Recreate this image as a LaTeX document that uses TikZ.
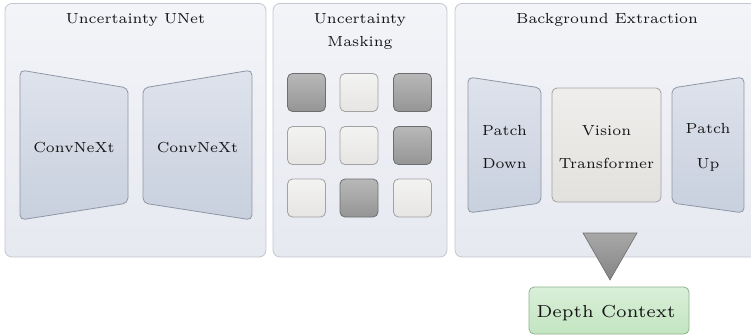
\documentclass[tikz,border=0pt]{standalone}
\definecolor{panelTop}{HTML}{F3F4F8}
\definecolor{panelBot}{HTML}{E7E9F1}
\definecolor{panelLine}{HTML}{C2C6CE}
\definecolor{trapTop}{HTML}{DEE3EC}
\definecolor{trapBot}{HTML}{C8D0DE}
\definecolor{trapLine}{HTML}{8E97A6}
\definecolor{darkTop}{HTML}{B8B8B8}
\definecolor{darkBot}{HTML}{959595}
\definecolor{darkLine}{HTML}{6E6E6E}
\definecolor{liteTop}{HTML}{F3F3F2}
\definecolor{liteBot}{HTML}{E6E5E3}
\definecolor{liteLine}{HTML}{A2A2A2}
\definecolor{vitTop}{HTML}{EFEEEC}
\definecolor{vitBot}{HTML}{E2E1DE}
\definecolor{triTop}{HTML}{A8A8A8}
\definecolor{triBot}{HTML}{848484}
\definecolor{greenTop}{HTML}{DAEFD9}
\definecolor{greenBot}{HTML}{C2E5C0}
\definecolor{greenLine}{HTML}{8FB18D}
\definecolor{ink}{HTML}{161616}
\begin{document}
\begin{tikzpicture}[x=1pt,y=1pt,
  textbase/.style={font=\fontsize{6}{7.2}\selectfont, text=ink,
    transform shape, inner sep=0pt, anchor=base},
  lbl/.style={textbase, scale=2.43},
  biglbl/.style={textbase, scale=2.9},
  panel/.style={draw=panelLine, line width=0.8pt, rounded corners=7pt,
    top color=panelTop, bottom color=panelBot, inner sep=0pt},
  trap/.style={draw=trapLine, line width=0.8pt, rounded corners=5pt,
    top color=trapTop, bottom color=trapBot},
  cell/.style={rounded corners=5pt, line width=0.8pt, minimum size=38pt, inner sep=0pt},
  darkcell/.style={cell, draw=darkLine, top color=darkTop, bottom color=darkBot},
  litecell/.style={cell, draw=liteLine, top color=liteTop, bottom color=liteBot},
  vit/.style={draw=liteLine, line width=0.8pt, rounded corners=5pt,
    top color=vitTop, bottom color=vitBot, inner sep=0pt},
  depthbox/.style={draw=greenLine, line width=0.8pt, rounded corners=5pt,
    top color=greenTop, bottom color=greenBot, inner sep=0pt},
  funnel/.style={draw=darkLine, line width=0.6pt, top color=triTop, bottom color=triBot}]
\useasboundingbox (0,0) rectangle (751,-335);
\clip (0,0) rectangle (751,-335);

% panels
\node[panel, minimum width=261pt, minimum height=253.5pt] (unet) at (135.5,-130.25) {};
\node[panel, minimum width=174pt, minimum height=253.5pt] (mask) at (360,-130.25) {};
\node[panel, minimum width=310pt, minimum height=253.5pt] (bgx) at (610,-130.25) {};

\node[lbl] (unetT) at (135.5,-23) {Uncertainty UNet};
\node[lbl] (maskT1) at (360,-23) {Uncertainty};
\node[lbl] (maskT2) at (360,-46) {Masking};
\node[lbl] (bgxT) at (607,-23) {Background Extraction};

% UNet encoder / decoder
\draw[trap] (20,-70) -- (128,-88) -- (128,-203) -- (20,-220) -- cycle;
\draw[trap] (143,-88) -- (252,-70) -- (252,-220) -- (143,-203) -- cycle;
\node[lbl] (enc) at (74,-152) {ConvNeXt};
\node[lbl] (dec) at (197.5,-152) {ConvNeXt};

% masking grid
\node[darkcell] (m11) at (306.5,-92.5) {};
\node[litecell] (m12) at (359,-92.5) {};
\node[darkcell] (m13) at (412.5,-92.5) {};
\node[litecell] (m21) at (306.5,-145.5) {};
\node[litecell] (m22) at (359,-145.5) {};
\node[darkcell] (m23) at (412.5,-145.5) {};
\node[litecell] (m31) at (306.5,-198) {};
\node[darkcell] (m32) at (359,-198) {};
\node[litecell] (m33) at (412.5,-198) {};

% background extraction
\draw[trap] (468,-77) -- (541,-88) -- (541,-203) -- (468,-213) -- cycle;
\draw[trap] (672,-88) -- (744,-77) -- (744,-213) -- (672,-203) -- cycle;
\node[vit, minimum width=109pt, minimum height=114pt] (vitbox) at (606.5,-145) {};
\node[lbl] (pd1) at (504.5,-135) {Patch};
\node[lbl] (pd2) at (504.5,-168) {Down};
\node[lbl] (vt1) at (606.5,-135) {Vision};
\node[lbl] (vt2) at (606.5,-168) {Transformer};
\node[lbl] (pu1) at (708,-133) {Patch};
\node[lbl] (pu2) at (708,-168) {Up};

% output funnel and depth context
\draw[funnel] (583,-233) -- (637,-233) -- (610,-280) -- cycle;
\coordinate (tip) at (610,-280);
\node[depthbox, minimum width=160pt, minimum height=47pt] (depth) at (609,-310.5) {};
\node[biglbl] (depthT) at (606,-317) {Depth Context};
\end{tikzpicture}
\end{document}
